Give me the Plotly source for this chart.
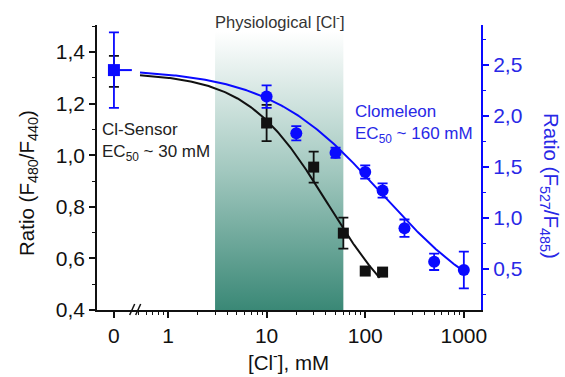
import numpy as np
import plotly.graph_objects as go

# ---------------- data ----------------
ZERO_POS = 0.283          # where "0 mM" sits on the broken log axis
BREAK_POS = 0.47          # axis break marker
sensor_conc = [0, 10, 30, 60, 100, 150]
sensor_ratio = [1.325, 1.125, 0.954, 0.698, 0.551, 0.547]
sensor_err = [0.06, 0.07, 0.06, 0.06, 0.0, 0.0]

clom_conc = [0, 10, 20, 50, 100, 150, 250, 500, 1000]
clom_ratio = [2.45, 2.19, 1.83, 1.64, 1.45, 1.27, 0.90, 0.57, 0.49]
clom_err = [0.37, 0.11, 0.07, 0.05, 0.065, 0.07, 0.085, 0.08, 0.18]

# Hill fit parameters
sensor_fit = dict(top=1.32, bottom=0.30, ec50=42.0, n=1.05, start=0.52, end=140.0)
clom_fit = dict(top=2.46, bottom=0.0, ec50=150.0, n=0.75, start=0.52, end=1000.0)
clom_zero_seg_end = 0.43

physio_range = [3, 60]
physio_ratio_span = [0.4, 1.48]

x_tickvals = [ZERO_POS, 1, 10, 100, 1000]
x_ticktext = ["0", "1", "10", "100", "1000"]
x_minor = [0.5, 0.6, 0.7, 0.8, 0.9] + [m * d for d in (1, 10, 100) for m in range(2, 10)]

XR = [-0.72, 3.174]
Y1R = [0.4, 1.505]
Y2R = [0.098, 2.892]

BLUE = "#0a0aff"
BLUE_TXT = "#2828e6"
BLACK = "#111111"
FONT = "Liberation Sans"

def hill(p):
    x = np.logspace(np.log10(p["start"]), np.log10(p["end"]), 200)
    y = p["bottom"] + (p["top"] - p["bottom"]) / (1 + (x / p["ec50"]) ** p["n"])
    return x, y

def xpos(c):
    return [ZERO_POS if v == 0 else v for v in c]

fig = go.Figure()

# physiological range shading
fig.add_trace(go.Scatter(
    x=[physio_range[0], physio_range[1], physio_range[1], physio_range[0], physio_range[0]],
    y=[physio_ratio_span[0], physio_ratio_span[0], physio_ratio_span[1], physio_ratio_span[1], physio_ratio_span[0]],
    mode="lines", line=dict(width=0), fill="toself",
    fillgradient=dict(type="vertical",
                      colorscale=[[0, "#3a8876"], [0.5, "#a2c8bf"], [1, "#ffffff"]]),
    hoverinfo="skip", showlegend=False, yaxis="y"))

# Clomeleon (right axis)
cx, cy = hill(clom_fit)
fig.add_trace(go.Scatter(x=cx, y=cy, mode="lines", line=dict(color=BLUE, width=2),
                         yaxis="y2", showlegend=False, hoverinfo="skip"))
fig.add_trace(go.Scatter(x=[ZERO_POS, clom_zero_seg_end], y=[clom_ratio[0], clom_ratio[0]],
                         mode="lines", line=dict(color=BLUE, width=2),
                         yaxis="y2", showlegend=False, hoverinfo="skip"))
fig.add_trace(go.Scatter(
    x=xpos(clom_conc), y=clom_ratio, mode="markers", yaxis="y2",
    marker=dict(color=BLUE, opacity=1, line=dict(width=0),
                size=[12] + [12] * (len(clom_conc) - 1),
                symbol=["square"] + ["circle"] * (len(clom_conc) - 1)),
    error_y=dict(type="data", array=clom_err, color=BLUE, thickness=1.8, width=5),
    showlegend=False))

# Cl-Sensor (left axis)
sx, sy = hill(sensor_fit)
fig.add_trace(go.Scatter(x=sx, y=sy, mode="lines", line=dict(color=BLACK, width=2),
                         yaxis="y", showlegend=False, hoverinfo="skip"))
fig.add_trace(go.Scatter(
    x=xpos(sensor_conc), y=sensor_ratio, mode="markers", yaxis="y",
    marker=dict(color=BLACK, symbol="square", opacity=1, line=dict(width=0),
                size=[0] + [11] * (len(sensor_conc) - 1)),
    error_y=dict(type="data", array=sensor_err, color=BLACK, thickness=1.8, width=5),
    showlegend=False))

W, H = 565, 377
L, R, T, B = 97, 84, 25, 67
pw, ph = W - L - R, H - T - B

def px(x):
    return (x - L) / pw

def py(y):
    return (H - B - y) / ph

brk = (np.log10(BREAK_POS) - XR[0]) / (XR[1] - XR[0])

shapes = [
    dict(type="line", xref="paper", yref="paper", xsizemode="pixel", xanchor=0,
         x0=-7, x1=0, y0=0, y1=0, line=dict(color=BLACK, width=1.5)),
    dict(type="line", xref="paper", yref="paper", xsizemode="pixel", ysizemode="pixel",
         xanchor=brk, yanchor=0, x0=-6, x1=-1, y0=-5, y1=6, line=dict(color=BLACK, width=1.5)),
    dict(type="line", xref="paper", yref="paper", xsizemode="pixel", ysizemode="pixel",
         xanchor=brk, yanchor=0, x0=0, x1=5, y0=-5, y1=6, line=dict(color=BLACK, width=1.5)),
]

def ann(text, x, y, size, color, angle=0, xanchor="center"):
    return dict(text=text, x=px(x), y=py(y), xref="paper", yref="paper", textangle=angle,
                xanchor=xanchor, yanchor="middle", align="left", showarrow=False,
                font=dict(size=size, color=color, family=FONT))

annotations = [
    ann("Ratio (F<sub>480</sub>/F<sub>440</sub>)", 28, 183, 20.5, BLACK, -90),
    ann("Ratio (F<sub>527</sub>/F<sub>485</sub>)", 550, 186, 20.5, BLUE_TXT, 90),
    ann("[Cl<sup>-</sup>], mM", 288, 361, 20.5, BLACK),
    ann("Physiological [Cl<sup>-</sup>]", 280, 21, 16.5, "#333333"),
    ann("Cl-Sensor<br>EC<sub>50</sub> ~ 30 mM", 100, 142, 17, "#222222", xanchor="left"),
    ann("Clomeleon<br>EC<sub>50</sub> ~ 160 mM", 353, 124, 17, BLUE_TXT, xanchor="left"),
]

fig.update_layout(
    width=W, height=H, margin=dict(l=L, r=R, t=T, b=B),
    paper_bgcolor="white", plot_bgcolor="white",
    separators=",.", font=dict(family=FONT, size=20, color=BLACK),
    shapes=shapes, annotations=annotations,
    xaxis=dict(type="log", range=XR, tickmode="array", tickvals=x_tickvals, ticktext=x_ticktext,
               ticks="outside", ticklen=6, tickwidth=1.5, tickcolor=BLACK,
               showline=True, linecolor=BLACK, linewidth=1.5, showgrid=False, zeroline=False,
               tickfont=dict(size=21, color=BLACK),
               minor=dict(tickmode="array", tickvals=x_minor, ticks="outside", ticklen=3,
                          tickwidth=1.2, tickcolor=BLACK, showgrid=False)),
    yaxis=dict(range=Y1R, tick0=0.4, dtick=0.2, tickformat=".1f",
               ticks="outside", ticklen=6, tickwidth=1.5, tickcolor=BLACK,
               showline=True, linecolor=BLACK, linewidth=1.5, showgrid=False, zeroline=False,
               tickfont=dict(size=21, color=BLACK),
               minor=dict(dtick=0.1, ticks="outside", ticklen=3, tickwidth=1.2,
                          tickcolor=BLACK, showgrid=False)),
    yaxis2=dict(range=Y2R, overlaying="y", side="right", tick0=0.5, dtick=0.5, tickformat=".1f",
                ticks="outside", ticklen=6, tickwidth=1.5, tickcolor=BLUE,
                showline=True, linecolor=BLUE, linewidth=2, showgrid=False, zeroline=False,
                tickfont=dict(size=21, color=BLUE_TXT),
                minor=dict(dtick=0.25, tick0=0.5, ticks="outside", ticklen=3, tickwidth=1.2,
                           tickcolor=BLUE, showgrid=False)),
)

fig.write_html("out.html", config={"displayModeBar": False},
               post_script="document.body.style.margin='0';")
